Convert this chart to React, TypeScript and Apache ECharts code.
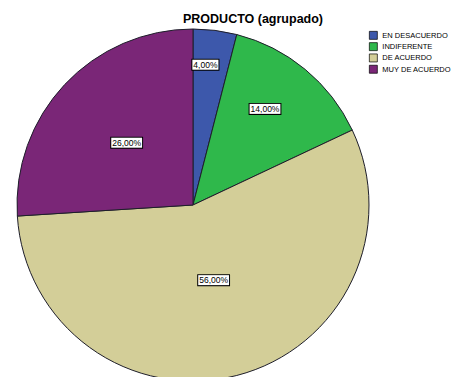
import React, { useEffect, useRef } from "react";
import * as echarts from "echarts";

const categories = ["EN DESACUERDO", "INDIFERENTE", "DE ACUERDO", "MUY DE ACUERDO"];
const values = [4, 14, 56, 26];
const colors = ["#3d58ab", "#2fb84b", "#d3ce98", "#7a2677"];
const labelOffsets = [[1, -50], [14, -26], [-2, -13], [0, 0]];

export default function App() {
  const ref = useRef<HTMLDivElement>(null);
  useEffect(() => {
    const chart = echarts.init(ref.current!, null, { renderer: "svg" });
    chart.setOption({
      animation: false,
      backgroundColor: "#ffffff",
      title: {
        text: "PRODUCTO (agrupado)",
        left: 248,
        top: 7,
        textAlign: "center",
        textStyle: { fontFamily: "Liberation Sans, Arial", fontSize: 12.5, fontWeight: "bold", color: "#000" },
      },
      legend: {
        orient: "vertical",
        left: 369,
        top: 31,
        padding: 0,
        itemWidth: 8,
        itemHeight: 8,
        itemGap: 2.6,
        icon: "rect",
        data: categories,
        textStyle: { fontFamily: "Liberation Sans, Arial", fontSize: 7.5, color: "#000" },
        itemStyle: { borderColor: "#000", borderWidth: 0.7 },
      },
      series: [
        {
          type: "pie",
          center: [193, 205],
          radius: 176,
          startAngle: 90,
          clockwise: true,
          data: categories.map((c, i) => ({
            name: c,
            value: values[i],
            itemStyle: { color: colors[i] },
            label: { offset: labelOffsets[i] },
          })),
          itemStyle: { borderColor: "#1e1e2a", borderWidth: 1 },
          label: {
            position: "inside",
            formatter: (p: any) => p.value.toFixed(2).replace(".", ",") + "%",
            backgroundColor: "#ffffff",
            borderColor: "#000",
            borderWidth: 1,
            padding: [1, 1, 0, 1],
            fontFamily: "Liberation Sans, Arial",
            fontSize: 8.5,
            color: "#000",
          },
          labelLine: { show: false },
          emphasis: { disabled: true },
        },
      ],
    });
    return () => chart.dispose();
  }, []);
  return <div ref={ref} style={{ position: "fixed", left: 0, top: 0, width: 455, height: 377 }} />;
}
